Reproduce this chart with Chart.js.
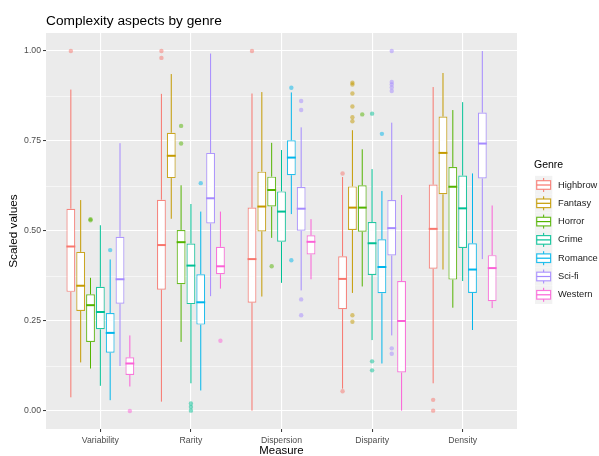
<!DOCTYPE html>
<html><head><meta charset="utf-8">
<script src="https://cdn.jsdelivr.net/npm/chart.js@4.4.1/dist/chart.umd.min.js"></script>
<style>html,body{margin:0;padding:0;background:#fff}#wrap{width:599px;height:456px;position:relative}</style>
</head><body><div id="wrap"><canvas id="c"></canvas></div>
<script>
const measures = ['Variability','Rarity','Dispersion','Disparity','Density'];
const genres = ['Highbrow','Fantasy','Horror','Crime','Romance','Sci-fi','Western'];
const colors = ['#F8766D','#C49A00','#53B400','#00C094','#00B6EB','#A58AFF','#FB61D7'];
const yTicks = [0, 0.125, 0.25, 0.375, 0.5, 0.625, 0.75, 0.875, 1];

// rows = genres, columns = measures
const whiskerLow = [
  [0.038, 0.026, 0.001, 0.062, 0.077],
  [0.135, 0.534, 0.318, 0.328, 0.393],
  [0.118, 0.192, 0.481, 0.346, 0.287],
  [0.070, 0.077, 0.356, 0.197, 0.361],
  [0.030, 0.057, 0.547, 0.132, 0.225],
  [0.125, 0.319, 0.335, 0.210, 0.422],
  [0.068, 0.340, 0.366, 0.001, 0.286]
];
const q1 = [
  [0.331, 0.337, 0.301, 0.283, 0.395],
  [0.278, 0.647, 0.499, 0.503, 0.602],
  [0.192, 0.352, 0.568, 0.498, 0.365],
  [0.227, 0.297, 0.470, 0.378, 0.453],
  [0.162, 0.240, 0.655, 0.327, 0.328],
  [0.298, 0.521, 0.501, 0.432, 0.646],
  [0.100, 0.380, 0.435, 0.107, 0.305]
];
const median = [
  [0.457, 0.461, 0.422, 0.367, 0.506],
  [0.348, 0.709, 0.568, 0.565, 0.717],
  [0.294, 0.469, 0.614, 0.565, 0.623],
  [0.275, 0.404, 0.554, 0.466, 0.563],
  [0.217, 0.302, 0.704, 0.400, 0.393],
  [0.366, 0.591, 0.562, 0.508, 0.743],
  [0.132, 0.402, 0.470, 0.250, 0.397]
];
const q3 = [
  [0.562, 0.587, 0.565, 0.430, 0.629],
  [0.442, 0.773, 0.665, 0.624, 0.818],
  [0.324, 0.503, 0.651, 0.627, 0.678],
  [0.345, 0.465, 0.610, 0.525, 0.654],
  [0.272, 0.380, 0.752, 0.477, 0.466],
  [0.484, 0.717, 0.622, 0.586, 0.829],
  [0.149, 0.456, 0.488, 0.361, 0.433]
];
const whiskerHigh = [
  [0.893, 0.881, 0.882, 0.650, 0.900],
  [0.586, 0.936, 0.886, 0.780, 0.939],
  [0.370, 0.627, 0.745, 0.727, 0.836],
  [0.516, 0.575, 0.725, 0.672, 0.858],
  [0.421, 0.554, 0.885, 0.611, 0.660],
  [0.744, 0.993, 0.788, 0.801, 1.000],
  [0.210, 0.554, 0.533, 0.600, 0.571]
];
const outliers = [
  [[1.00], [1.00, 0.981], [1.00], [0.660, 0.055], [0.031, 0.001]],
  [[], [], [], [0.912, 0.907, 0.882, 0.846, 0.816, 0.805, 0.266, 0.248], []],
  [[0.530, 0.533], [0.792, 0.743], [0.402], [0.824], []],
  [[], [0.021, 0.011, 0.001], [], [0.826, 0.138, 0.113], []],
  [[0.447], [0.633], [0.898, 0.419], [0.770], []],
  [[], [], [0.861, 0.836, 0.310, 0.266], [1.00, 0.914, 0.907, 0.899, 0.889, 0.174, 0.159], []],
  [[0.00], [0.195], [], [], []]
];

function alpha(hex, a){
  const n = parseInt(hex.slice(1),16);
  return `rgba(${(n>>16)&255},${(n>>8)&255},${n&255},${a})`;
}
const FONT = "'Liberation Sans', Arial, sans-serif";
const isMajor = v => Math.abs(v*4 - Math.round(v*4)) < 1e-6;

const datasets = genres.map((g, gi) => ({
  label: g,
  data: measures.map((m, mi) => ({x: mi + 1, y: [q1[gi][mi], q3[gi][mi]]})),
  backgroundColor: '#FFFFFF',
  borderColor: alpha(colors[gi], 0.85),
  borderWidth: 1.2,
  borderSkipped: false,
  categoryPercentage: 0.76,
  barPercentage: 0.9
}));

const panelBg = {
  id: 'panelBg',
  beforeDraw(chart){
    const {ctx, chartArea:a} = chart;
    ctx.save(); ctx.fillStyle = '#EBEBEB';
    ctx.fillRect(a.left, a.top, a.right - a.left, a.bottom - a.top);
    ctx.restore();
  }
};

const boxParts = {
  id: 'boxParts',
  beforeDatasetsDraw(chart){
    const ctx = chart.ctx, ys = chart.scales.y;
    ctx.save();
    genres.forEach((g, gi) => {
      const meta = chart.getDatasetMeta(gi);
      meta.data.forEach((bar, mi) => {
        ctx.strokeStyle = colors[gi]; ctx.lineWidth = 1;
        ctx.beginPath();
        ctx.moveTo(bar.x, ys.getPixelForValue(whiskerHigh[gi][mi]));
        ctx.lineTo(bar.x, ys.getPixelForValue(q3[gi][mi]));
        ctx.moveTo(bar.x, ys.getPixelForValue(q1[gi][mi]));
        ctx.lineTo(bar.x, ys.getPixelForValue(whiskerLow[gi][mi]));
        ctx.stroke();
      });
    });
    ctx.restore();
  },
  afterDatasetsDraw(chart){
    const ctx = chart.ctx, ys = chart.scales.y;
    ctx.save();
    genres.forEach((g, gi) => {
      const meta = chart.getDatasetMeta(gi);
      meta.data.forEach((bar, mi) => {
        const w = bar.width;
        const py = ys.getPixelForValue(median[gi][mi]);
        ctx.strokeStyle = colors[gi]; ctx.lineWidth = 2;
        ctx.beginPath();
        ctx.moveTo(bar.x - w/2, py); ctx.lineTo(bar.x + w/2, py);
        ctx.stroke();
        ctx.fillStyle = alpha(colors[gi], 0.5);
        outliers[gi][mi].forEach(v => {
          ctx.beginPath();
          ctx.arc(bar.x, ys.getPixelForValue(v), 2.2, 0, Math.PI*2);
          ctx.fill();
        });
      });
    });
    ctx.restore();
  }
};

const legendBox = {
  id: 'legendBox',
  afterDraw(chart){
    const ctx = chart.ctx;
    ctx.save();
    ctx.fillStyle = '#000'; ctx.font = `10.5px ${FONT}`; ctx.textBaseline = 'middle'; ctx.textAlign = 'left';
    ctx.fillText('Genre', 534, 165.5);
    const kx = 535, kw = 17.3, kh = 18.3;
    genres.forEach((g, i) => {
      const cy = 185 + i*kh;
      ctx.fillStyle = '#F2F2F2';
      ctx.fillRect(kx, cy - kh/2, kw, kh);
      const cx = kx + kw/2;
      ctx.strokeStyle = colors[i]; ctx.lineWidth = 1;
      ctx.beginPath();
      ctx.moveTo(cx, cy - 7); ctx.lineTo(cx, cy - 4.3);
      ctx.moveTo(cx, cy + 4.3); ctx.lineTo(cx, cy + 7);
      ctx.stroke();
      ctx.fillStyle = '#fff';
      ctx.fillRect(kx + 1.7, cy - 4.3, kw - 3.4, 8.6);
      ctx.strokeStyle = alpha(colors[i], 0.85); ctx.lineWidth = 1.2;
      ctx.strokeRect(kx + 1.7, cy - 4.3, kw - 3.4, 8.6);
      ctx.strokeStyle = colors[i]; ctx.lineWidth = 1.2;
      ctx.beginPath(); ctx.moveTo(kx + 1.7, cy); ctx.lineTo(kx + kw - 1.7, cy); ctx.stroke();
      ctx.fillStyle = '#1a1a1a'; ctx.font = `9.3px ${FONT}`;
      ctx.fillText(g, 558, cy);
    });
    ctx.restore();
  }
};

new Chart(document.getElementById('c'), {
  type: 'bar',
  data: { datasets },
  options: {
    responsive: true, maintainAspectRatio: false, animation: false,
    layout: { padding: { left: 0, right: 82, top: 0, bottom: 0 } },
    plugins: {
      legend: { display: false },
      tooltip: { enabled: false },
      title: {
        display: true, text: 'Complexity aspects by genre', align: 'start', fullSize: false,
        color: '#000', font: { family: FONT, size: 13.7, weight: 'normal', lineHeight: 1.2 },
        padding: { top: 13, bottom: 3.6 }
      }
    },
    scales: {
      x: {
        type: 'linear', min: 0.4, max: 5.6, offset: false,
        afterBuildTicks: s => { s.ticks = measures.map((m, i) => ({ value: i + 1 })); },
        afterFit: s => { s.height = 27; },
        ticks: { callback: v => measures[Math.round(v) - 1], color: '#4D4D4D', font: { family: FONT, size: 8.7 }, padding: 3, maxRotation: 0, autoSkip: false },
        grid: { color: '#FFFFFF', lineWidth: 1.1, tickLength: 3, tickColor: '#333333', tickWidth: 1, offset: false },
        border: { display: false },
        title: { display: true, text: 'Measure', color: '#000', font: { family: FONT, size: 11.4, lineHeight: 1 }, padding: { top: 0, bottom: -1 } }
      },
      y: {
        type: 'linear', min: -0.05, max: 1.05,
        afterBuildTicks: s => { s.ticks = yTicks.map(v => ({ value: v })); },
        afterFit: s => { s.width = 46; },
        ticks: { callback: v => isMajor(v) ? v.toFixed(2) : '', color: '#4D4D4D', font: { family: FONT, size: 8.7 }, padding: 2 },
        grid: {
          color: '#FFFFFF',
          lineWidth: c => isMajor(c.tick.value) ? 1.1 : 0.55,
          tickLength: 3,
          tickColor: c => isMajor(c.tick.value) ? '#333333' : 'rgba(0,0,0,0)',
          tickWidth: 1
        },
        border: { display: false },
        title: { display: true, text: 'Scaled values', color: '#000', font: { family: FONT, size: 11.8, lineHeight: 1 }, padding: { top: 8, bottom: 0 } }
      }
    }
  },
  plugins: [panelBg, boxParts, legendBox]
});
</script>
</body></html>
